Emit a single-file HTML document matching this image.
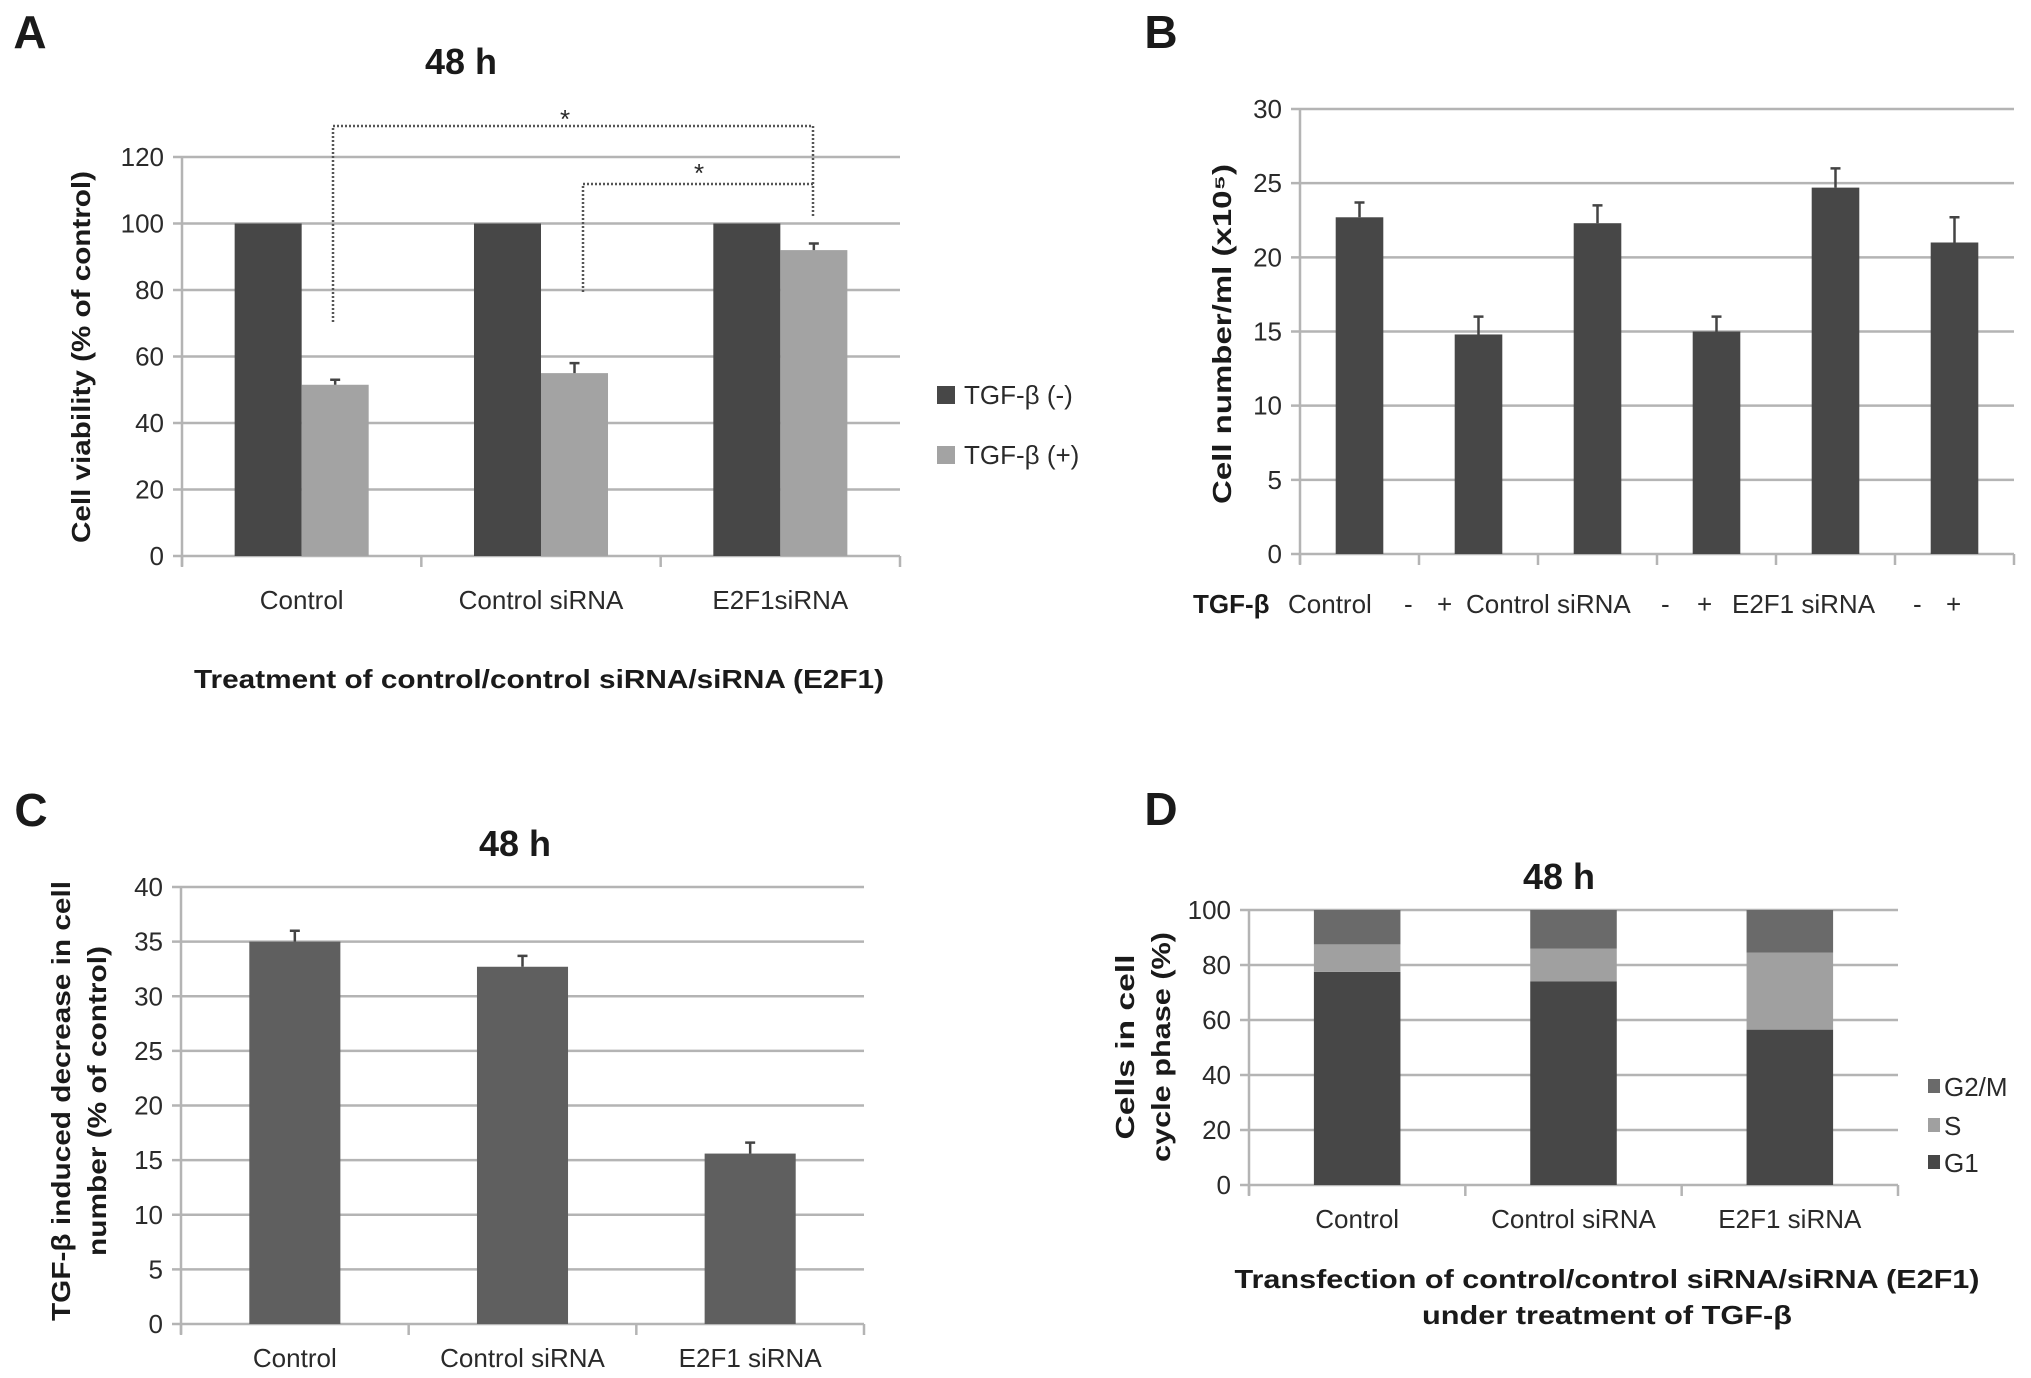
<!DOCTYPE html>
<html><head><meta charset="utf-8"><style>
html,body{margin:0;padding:0;background:#fff;}
svg{display:block;font-family:"Liberation Sans",Arial,sans-serif;}
.t{font-size:26px;fill:#2a2a2a;}
.b{font-weight:bold;fill:#1a1a1a;}
</style></head><body>
<svg id="fig" width="2031" height="1378" viewBox="0 0 2031 1378" xmlns="http://www.w3.org/2000/svg">
<rect width="2031" height="1378" fill="#fff"/>
</svg>
<script>
// ---- Panel A data ----
const aCategories = ["Control", "Control siRNA", "E2F1siRNA"];
const aNeg = [100, 100, 100];
const aPos = [51.5, 55, 92];
const aPosErr = [1.5, 3, 2];
const aTicks = [0, 20, 40, 60, 80, 100, 120];
// ---- Panel B data ----
const bValues = [22.7, 14.8, 22.3, 15.0, 24.7, 21.0];
const bErr = [1.0, 1.2, 1.2, 1.0, 1.3, 1.7];
const bTicks = [0, 5, 10, 15, 20, 25, 30];
// ---- Panel C data ----
const cCategories = ["Control", "Control siRNA", "E2F1 siRNA"];
const cValues = [35.0, 32.7, 15.6];
const cErr = [1.0, 1.0, 1.0];
const cTicks = [0, 5, 10, 15, 20, 25, 30, 35, 40];
// ---- Panel D data ----
const dCategories = ["Control", "Control siRNA", "E2F1 siRNA"];
const dG1 = [77.5, 74, 56.5];
const dS = [10, 12, 28];
const dG2M = [12.5, 14, 15.5];
const dTicks = [0, 20, 40, 60, 80, 100];

const NS = "http://www.w3.org/2000/svg";
const svg = document.getElementById("fig");
function mk(tag, attrs, parent) {
  const e = document.createElementNS(NS, tag);
  for (const k in attrs) e.setAttribute(k, attrs[k]);
  (parent || svg).appendChild(e);
  return e;
}
function txt(str, x, y, cls, anchor, extra) {
  const a = Object.assign({x: x, y: y, class: cls, "text-anchor": anchor || "middle"}, extra || {});
  const e = mk("text", a);
  e.textContent = str;
  return e;
}
function axes(x0, x1, y0, yTop, vmax, ticks, ncat, name) {
  const ys = v => y0 - v / vmax * (y0 - yTop);
  ticks.forEach(t => {
    const g = mk("line", {x1: x0 - 9, x2: x1, y1: ys(t), y2: ys(t), stroke: "#b4b4b4", "stroke-width": 2.5});
    
    
    const l = txt(String(t), x0 - 18, ys(t) + 9, "t", "end");
    
    
  });
  const ax = mk("line", {x1: x0, x2: x0, y1: yTop, y2: y0 + 10, stroke: "#b4b4b4", "stroke-width": 2.5});
  
  
  const cw = (x1 - x0) / ncat;
  for (let i = 0; i <= ncat; i++) {
    const tk = mk("line", {x1: x0 + i * cw, x2: x0 + i * cw, y1: y0, y2: y0 + 11, stroke: "#b4b4b4", "stroke-width": 2.5});
    
    
  }
  return {ys: ys, cw: cw};
}
function bar(x, y, w, h, fill, name) {
  const r = mk("rect", {x: x, y: y, width: w, height: h, fill: fill});
  
  
  return r;
}
function err(cx, yv, ye, name) {
  const g = mk("path", {d: `M${cx},${yv}V${ye}M${cx - 5},${ye}H${cx + 5}`, stroke: "#444", "stroke-width": 2.5, fill: "none"});
  
  
}
function vtitle(lines, cx, cy, name, len) {
  lines.forEach((s, i) => {
    const x = cx + (i - (lines.length - 1) / 2) * 36;
    const e = txt(s, x, cy, "t b", "middle", {transform: `rotate(-90 ${x} ${cy})`, "dominant-baseline": "central", "font-size": "26", textLength: len[i], lengthAdjust: "spacingAndGlyphs"});
    
    
  });
}
function label(s, x, y, size, name) {
  const e = txt(s, x, y, "b", "middle", {"font-size": size});
  
  
}

// ===== Panel A =====
label("A", 30, 48, 46, "panel-a-label");
label("48 h", 461, 74, 36, "panel-a-title");
(function () {
  const x0 = 182, x1 = 900, y0 = 556, yTop = 157;
  const {ys, cw} = axes(x0, x1, y0, yTop, 120, aTicks, aCategories.length, "panel-a");
  const bw = cw * 0.28;
  aCategories.forEach((c, i) => {
    const cx = x0 + cw * (i + 0.5);
    bar(cx - bw, ys(aNeg[i]), bw, y0 - ys(aNeg[i]), "#474747", "bar-tgf-neg-" + i);
    bar(cx, ys(aPos[i]), bw, y0 - ys(aPos[i]), "#a3a3a3", "bar-tgf-pos-" + i);
    err(cx + bw / 2, ys(aPos[i]), ys(aPos[i] + aPosErr[i]), "error-bar-a-" + i);
    const l = txt(c, cx, 609, "t");
    
    
  });
  vtitle(["Cell viability (% of control)"], 81, 357, "panel-a-y-axis-title", [372]);
  const xt = txt("Treatment of control/control siRNA/siRNA (E2F1)", 539, 688, "t b", "middle", {textLength: 690, lengthAdjust: "spacingAndGlyphs"});
  
  
  // significance brackets
  const br1 = mk("path", {d: "M333,322V126H813V217", stroke: "#555", "stroke-width": 2.5, "stroke-dasharray": "2,2", fill: "none"});
  
  
  const br2 = mk("path", {d: "M583,292V184H813", stroke: "#555", "stroke-width": 2.5, "stroke-dasharray": "2,2", fill: "none"});
  
  
  const s1 = txt("*", 565, 128, "t");  
  const s2 = txt("*", 699, 182, "t");  
  // legend
  const lg1 = bar(937, 386, 18, 18, "#474747", "legend-swatch-tgf-neg");
  const lt1 = txt("TGF-β (-)", 964, 404, "t", "start");  
  const lg2 = bar(937, 446, 18, 18, "#a3a3a3", "legend-swatch-tgf-pos");
  const lt2 = txt("TGF-β (+)", 964, 464, "t", "start");  
})();

// ===== Panel B =====
label("B", 1161, 48, 46, "panel-b-label");
(function () {
  const x0 = 1300, x1 = 2014, y0 = 554, yTop = 109;
  const {ys, cw} = axes(x0, x1, y0, yTop, 30, bTicks, bValues.length, "panel-b");
  const bw = cw * 0.4;
  bValues.forEach((v, i) => {
    const cx = x0 + cw * (i + 0.5);
    bar(cx - bw / 2, ys(v), bw, y0 - ys(v), "#474747", "bar-b-" + i);
    err(cx, ys(v), ys(v + bErr[i]), "error-bar-b-" + i);
  });
  vtitle(["Cell number/ml (x10⁵)"], 1222, 334, "panel-b-y-axis-title", [340]);
  const row = [["TGF-β", 1193, true], ["Control", 1288], ["-", 1404], ["+", 1437], ["Control siRNA", 1466], ["-", 1661], ["+", 1697], ["E2F1 siRNA", 1732], ["-", 1913], ["+", 1946]];
  row.forEach(r => {
    const e = txt(r[0], r[1], 613, r[2] ? "t b" : "t", "start");
    
    
  });
})();

// ===== Panel C =====
label("C", 31, 826, 46, "panel-c-label");
label("48 h", 515, 856, 36, "panel-c-title");
(function () {
  const x0 = 181, x1 = 864, y0 = 1324, yTop = 887;
  const {ys, cw} = axes(x0, x1, y0, yTop, 40, cTicks, cCategories.length, "panel-c");
  const bw = cw * 0.4;
  cCategories.forEach((c, i) => {
    const cx = x0 + cw * (i + 0.5);
    bar(cx - bw / 2, ys(cValues[i]), bw, y0 - ys(cValues[i]), "#5f5f5f", "bar-c-" + i);
    err(cx, ys(cValues[i]), ys(cValues[i] + cErr[i]), "error-bar-c-" + i);
    const l = txt(c, cx, 1367, "t");
    
    
  });
  vtitle(["TGF-β induced decrease in cell", "number (% of control)"], 79, 1101, "panel-c-y-axis-title", [440, 310]);
})();

// ===== Panel D =====
label("D", 1161, 825, 46, "panel-d-label");
label("48 h", 1559, 889, 36, "panel-d-title");
(function () {
  const x0 = 1249, x1 = 1898, y0 = 1185, yTop = 910;
  const {ys, cw} = axes(x0, x1, y0, yTop, 100, dTicks, dCategories.length, "panel-d");
  const bw = cw * 0.4;
  dCategories.forEach((c, i) => {
    const cx = x0 + cw * (i + 0.5);
    const a = dG1[i], b = a + dS[i], t = b + dG2M[i];
    bar(cx - bw / 2, ys(a), bw, y0 - ys(a), "#474747", "bar-g1-" + i);
    bar(cx - bw / 2, ys(b), bw, ys(a) - ys(b), "#a0a0a0", "bar-s-" + i);
    bar(cx - bw / 2, ys(t), bw, ys(b) - ys(t), "#6a6a6a", "bar-g2m-" + i);
    const l = txt(c, cx, 1228, "t");
    
    
  });
  vtitle(["Cells in cell", "cycle phase (%)"], 1143, 1047, "panel-d-y-axis-title", [185, 230]);
  const t1 = txt("Transfection of control/control siRNA/siRNA (E2F1)", 1607, 1288, "t b", "middle", {textLength: 745, lengthAdjust: "spacingAndGlyphs"});
  
  
  const t2 = txt("under treatment of TGF-β", 1607, 1324, "t b", "middle", {textLength: 370, lengthAdjust: "spacingAndGlyphs"});
  
  
  const leg = [["G2/M", "#6a6a6a", 1087], ["S", "#a0a0a0", 1126], ["G1", "#474747", 1163]];
  leg.forEach(l => {
    bar(1928, l[2] - 8, 12, 14, l[1], "legend-swatch-" + l[0].toLowerCase().replace("/", ""));
    const e = txt(l[0], 1944, l[2] + 9, "t", "start");
    
    
  });
})();
</script>
</body></html>
